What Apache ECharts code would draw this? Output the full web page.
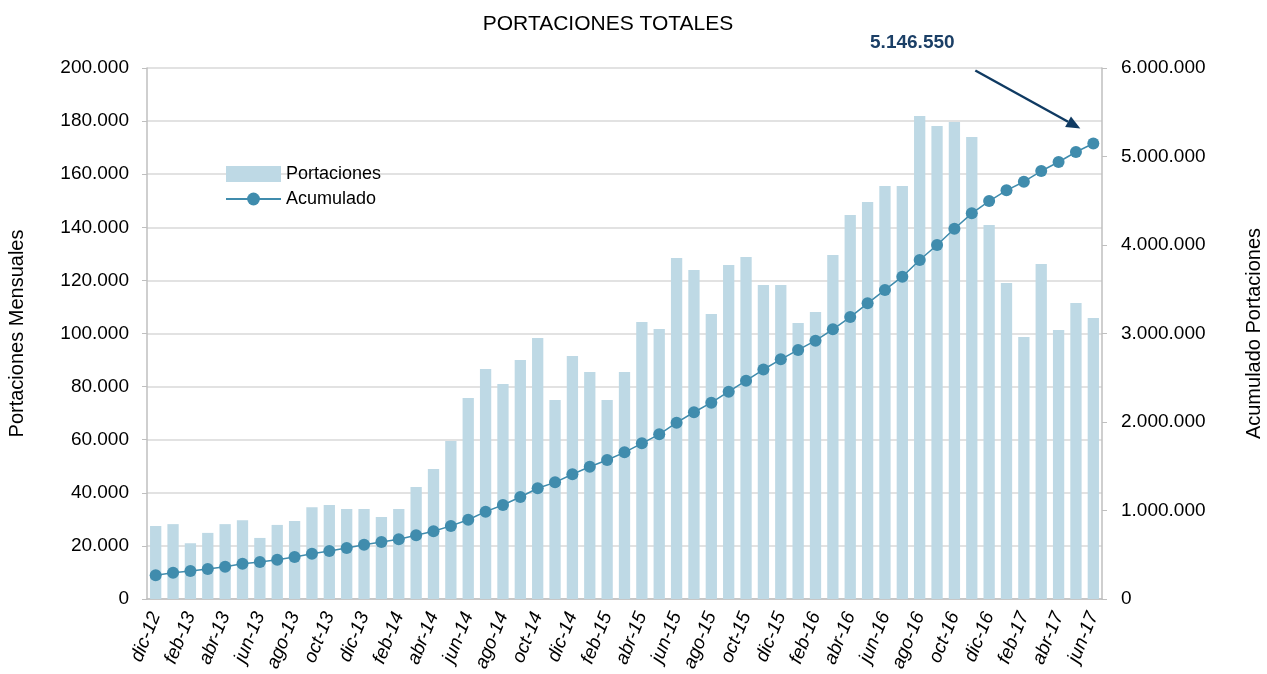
<!DOCTYPE html>
<html>
<head>
<meta charset="utf-8">
<script src="https://cdn.jsdelivr.net/npm/echarts@6/dist/echarts.min.js"></script>
<style>
    html, body { margin: 0; padding: 0; background: #fff; }
    #main { width: 1267px; height: 674px; }
</style>
</head>
<body>
<div id="main"></div>
<script>
    // meses dic-12 .. jun-17
    const meses = [
        'dic-12','ene-13','feb-13','mar-13','abr-13','may-13','jun-13','jul-13','ago-13','sep-13','oct-13','nov-13',
        'dic-13','ene-14','feb-14','mar-14','abr-14','may-14','jun-14','jul-14','ago-14','sep-14','oct-14','nov-14',
        'dic-14','ene-15','feb-15','mar-15','abr-15','may-15','jun-15','jul-15','ago-15','sep-15','oct-15','nov-15',
        'dic-15','ene-16','feb-16','mar-16','abr-16','may-16','jun-16','jul-16','ago-16','sep-16','oct-16','nov-16',
        'dic-16','ene-17','feb-17','mar-17','abr-17','may-17','jun-17'
    ];
    // portaciones mensuales
    const portaciones = [
        27500, 28200, 21000, 24900, 28200, 29700, 23000, 27900, 29400, 34600, 35400, 33900,
        33900, 30900, 33900, 42200, 49000, 59500, 75700, 86600, 81000, 90000, 98300, 75000,
        91500, 85500, 75000, 85500, 104300, 101700, 128400, 123900, 107300, 125800, 128800, 118300,
        118300, 104000, 108100, 129600, 144600, 149500, 155600, 155600, 181900, 178200, 179700, 174000,
        140900, 119000, 98700, 126200, 101300, 111500, 105800
    ];
    // acumulado
    const acumulado = [
        268000, 297000, 316000, 339000, 365000, 399000, 418000, 444000, 475000, 512000, 542000, 576000,
        614000, 644000, 675000, 720000, 765000, 826000, 896000, 987000, 1062000, 1153000, 1251000, 1318000,
        1409000, 1495000, 1571000, 1657000, 1759000, 1861000, 1992000, 2110000, 2218000, 2342000, 2467000, 2593000,
        2708000, 2814000, 2919000, 3047000, 3186000, 3341000, 3492000, 3642000, 3831000, 4000000, 4184000, 4358000,
        4497000, 4618000, 4715000, 4836000, 4938000, 5051000, 5146550
    ];
    const totalTexto = '5.146.550';

    const FONT = 'Liberation Sans';
    function miles(v) {
        return String(v).replace(/\B(?=(\d{3})+(?!\d))/g, '.');
    }

    let myChart = echarts.init(document.getElementById('main'));
    let option = {
        animation: false,
        textStyle: { fontFamily: FONT },
        title: {
            text: 'PORTACIONES TOTALES',
            left: 603,
            textAlign: 'center',
            top: 9,
            textStyle: { fontFamily: FONT, fontSize: 21, fontWeight: 'normal', color: '#000' }
        },
        legend: {
            orient: 'vertical',
            left: 220,
            top: 160,
            itemWidth: 55,
            itemHeight: 16,
            itemGap: 7,
            textStyle: { fontFamily: FONT, fontSize: 18, color: '#000' },
            data: [
                { name: 'Portaciones', icon: 'rect' },
                { name: 'Acumulado' }
            ]
        },
        grid: { left: 147, right: 165, top: 68, bottom: 75, outerBoundsMode: 'none' },
        xAxis: {
            type: 'category',
            data: meses,
            axisLine: { lineStyle: { color: '#BFBFBF', width: 1.5 } },
            axisTick: { interval: 1, length: 6, lineStyle: { color: '#BFBFBF' } },
            axisLabel: {
                interval: 1,
                rotate: 68,
                fontStyle: 'italic',
                fontSize: 19,
                color: '#000',
                margin: 14
            }
        },
        yAxis: [
            {
                type: 'value',
                min: 0, max: 200000, interval: 20000,
                name: 'Portaciones Mensuales',
                nameLocation: 'middle',
                nameRotate: 90,
                nameGap: 120,
                nameTextStyle: { fontSize: 20, color: '#000' },
                axisLine: { show: true, lineStyle: { color: '#BFBFBF', width: 1.5 } },
                axisTick: { show: true, length: 5, lineStyle: { color: '#BFBFBF' } },
                axisLabel: { fontSize: 19, color: '#000', margin: 18, formatter: miles },
                splitLine: { lineStyle: { color: '#D9D9D9', width: 1.5 } }
            },
            {
                type: 'value',
                min: 0, max: 6000000, interval: 1000000,
                name: 'Acumulado Portaciones',
                nameLocation: 'middle',
                nameRotate: 90,
                nameGap: 142,
                nameTextStyle: { fontSize: 20, color: '#000' },
                axisLine: { show: true, lineStyle: { color: '#BFBFBF', width: 1.5 } },
                axisTick: { show: true, length: 5, lineStyle: { color: '#BFBFBF' } },
                axisLabel: { fontSize: 19, color: '#000', margin: 19, formatter: miles },
                splitLine: { show: false }
            }
        ],
        series: [
            {
                name: 'Portaciones',
                type: 'bar',
                yAxisIndex: 0,
                barWidth: '65%',
                itemStyle: { color: '#BED9E5' },
                data: portaciones
            },
            {
                name: 'Acumulado',
                type: 'line',
                yAxisIndex: 1,
                symbol: 'circle',
                symbolSize: 12,
                showAllSymbol: true,
                lineStyle: { color: '#408CAD', width: 1.5 },
                itemStyle: { color: '#408CAD' },
                data: acumulado
            }
        ]
    };
    myChart.setOption(option);

    // anotación del total con flecha apuntando al último punto
    let last = acumulado.length - 1;
    let p = myChart.convertToPixel({ seriesIndex: 1 }, [last, acumulado[last]]);
    let tip = [p[0] - 13, p[1] - 15];
    let start = [p[0] - 118, p[1] - 73];
    let ang = Math.atan2(tip[1] - start[1], tip[0] - start[0]);
    let hl = 14, hw = 6;
    let bx = tip[0] - hl * Math.cos(ang), by = tip[1] - hl * Math.sin(ang);
    let head = [
        tip,
        [bx + hw * Math.sin(ang), by - hw * Math.cos(ang)],
        [bx - hw * Math.sin(ang), by + hw * Math.cos(ang)]
    ];
    myChart.setOption({
        graphic: [
            {
                type: 'line',
                shape: { x1: start[0], y1: start[1], x2: bx, y2: by },
                style: { stroke: '#0F3A62', lineWidth: 2.5 },
                z: 100
            },
            {
                type: 'polygon',
                shape: { points: head },
                style: { fill: '#0F3A62' },
                z: 100
            },
            {
                type: 'text',
                x: p[0] - 181,
                y: p[1] - 101,
                style: {
                    text: totalTexto,
                    fontFamily: FONT,
                    fontSize: 19,
                    fontWeight: 'bold',
                    fill: '#1B3F66',
                    align: 'center',
                    verticalAlign: 'middle'
                },
                z: 100
            }
        ]
    });
</script>
</body>
</html>
